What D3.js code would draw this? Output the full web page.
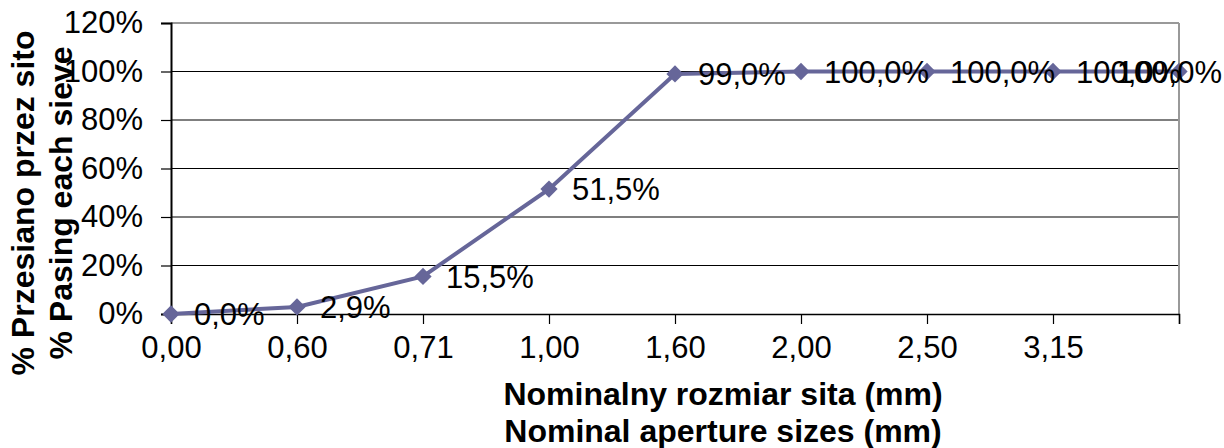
<!DOCTYPE html>
<html>
<head>
<meta charset="utf-8">
<script src="https://cdn.jsdelivr.net/npm/d3@7"></script>
<style>
  body { margin:0; background:#fff; }
  text { font-family: Arial, "Liberation Sans", sans-serif; }
</style>
</head>
<body>
<div id="chart"></div>
<script>
// sieve sizes (last category has no label in the original)
var sizes = ["0,00", "0,60", "0,71", "1,00", "1,60", "2,00", "2,50", "3,15", ""];
var passing = [0.0, 2.9, 15.5, 51.5, 99.0, 100.0, 100.0, 100.0, 100.0];
var yTicks = [0, 20, 40, 60, 80, 100, 120];
var yTitle = ["% Przesiano przez sito", "% Pasing each sieve"];
var xTitle = ["Nominalny rozmiar sita (mm)", "Nominal aperture sizes (mm)"];

var W = 1224, H = 448;
var plotLeft = 171, plotRight = 1179, plotTop = 23, plotBottom = 314;
var lineColour = "#666699";
var fnt = "Arial, 'Liberation Sans', sans-serif";

var svg = d3.select("#chart").append("svg")
  .attr("width", W).attr("height", H);

var x = d3.scalePoint().domain(d3.range(sizes.length)).range([plotLeft, plotRight]);
var y = d3.scaleLinear().domain([0, 120]).range([plotBottom, plotTop]);

// gridlines
svg.selectAll(".grid")
  .data(yTicks.slice(1))
  .enter().append("line")
  .attr("x1", plotLeft).attr("x2", plotRight)
  .attr("y1", function(d) { return y(d); })
  .attr("y2", function(d) { return y(d); })
  .style("stroke", function(d) { return d == 120 ? "#999" : "#000"; })
  .style("stroke-width", function(d) { return d == 120 ? 2 : 1.2; });

// right border
svg.append("line")
  .attr("x1", plotRight).attr("x2", plotRight).attr("y1", plotTop).attr("y2", plotBottom)
  .style("stroke", "#999").style("stroke-width", 2);

// y axis
var yAxis = d3.axisLeft(y).tickValues(yTicks)
  .tickSize(10).tickPadding(18)
  .tickFormat(function(d) { return d + "%"; });
var gy = svg.append("g").attr("transform", "translate(" + plotLeft + ",0)").call(yAxis);
gy.select(".domain").style("stroke", "#000").style("stroke-width", 2);
gy.selectAll(".tick line").style("stroke", "#000").style("stroke-width", 1.2);
gy.selectAll("text").style("font-size", "31px").style("fill", "#000").style("font-family", fnt);

// x axis
var xAxis = d3.axisBottom(x).tickSize(10).tickPadding(12)
  .tickFormat(function(i) { return sizes[i]; });
var gx = svg.append("g").attr("transform", "translate(0," + plotBottom + ")").call(xAxis);
gx.select(".domain").style("stroke", "#000").style("stroke-width", 1.5);
gx.selectAll(".tick line").style("stroke", "#000").style("stroke-width", 1.2);
gx.selectAll("text").style("font-size", "31px").style("fill", "#000").style("font-family", fnt);

// line
var line = d3.line()
  .x(function(d, i) { return x(i); })
  .y(function(d) { return y(d); });
svg.append("path").datum(passing)
  .attr("d", line)
  .style("fill", "none")
  .style("stroke", lineColour)
  .style("stroke-width", 4);

// diamond markers
svg.selectAll(".marker")
  .data(passing)
  .enter().append("path")
  .attr("class", "marker")
  .attr("d", d3.symbol().type(d3.symbolDiamond2).size(190))
  .attr("transform", function(d, i) { return "translate(" + x(i) + "," + y(d) + ")"; })
  .style("fill", lineColour);

// data labels, pushed left if they would run off the page
svg.selectAll(".dlabel")
  .data(passing)
  .enter().append("text")
  .attr("class", "dlabel")
  .text(function(d) { return d.toFixed(1).replace(".", ",") + "%"; })
  .attr("x", function(d, i) { return x(i) + 23; })
  .attr("y", function(d) { return y(d); })
  .attr("dy", "0.36em")
  .style("font-size", "31px")
  .each(function() {
    var w = this.getComputedTextLength();
    var x0 = +d3.select(this).attr("x");
    if (x0 + w > W - 2) d3.select(this).attr("x", W - 2 - w);
  });

// y title (two rotated lines)
svg.selectAll(".ytitle")
  .data(yTitle)
  .enter().append("text")
  .attr("transform", function(d, i) {
    return "translate(" + (34 + i * 38) + ",203) rotate(-90)";
  })
  .attr("text-anchor", "middle")
  .style("font-size", "32px").style("font-weight", "bold")
  .text(function(d) { return d; });

// x title
svg.selectAll(".xtitle")
  .data(xTitle)
  .enter().append("text")
  .attr("x", 723)
  .attr("y", function(d, i) { return 405 + i * 37; })
  .attr("text-anchor", "middle")
  .style("font-size", "32px").style("font-weight", "bold")
  .text(function(d) { return d; });
</script>
</body>
</html>
